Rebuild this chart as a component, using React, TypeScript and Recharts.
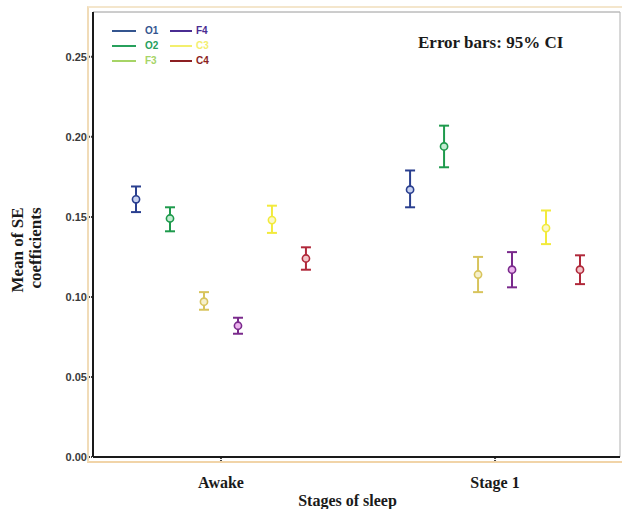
import React from "react";
import {
  ScatterChart,
  Scatter,
  XAxis,
  YAxis,
  ErrorBar,
  ReferenceLine,
} from "recharts";

// stages on the x axis
const stages = ["Awake", "Stage 1"];

// electrodes (series), in legend order
const channels = ["O1", "O2", "F3", "F4", "C3", "C4"];

// mean SE coefficient per channel, one value per stage
const meanO1 = [0.161, 0.167];
const meanO2 = [0.149, 0.194];
const meanF3 = [0.097, 0.114];
const meanF4 = [0.082, 0.117];
const meanC3 = [0.148, 0.143];
const meanC4 = [0.124, 0.117];

// 95% CI lower / upper bounds
const lowO1 = [0.153, 0.156];
const highO1 = [0.169, 0.179];
const lowO2 = [0.141, 0.181];
const highO2 = [0.156, 0.207];
const lowF3 = [0.092, 0.103];
const highF3 = [0.103, 0.125];
const lowF4 = [0.077, 0.106];
const highF4 = [0.087, 0.128];
const lowC3 = [0.14, 0.133];
const highC3 = [0.157, 0.154];
const lowC4 = [0.117, 0.108];
const highC4 = [0.131, 0.126];

const yTicks = [0, 0.05, 0.1, 0.15, 0.2, 0.25];

const means = [meanO1, meanO2, meanF3, meanF4, meanC3, meanC4];
const lows = [lowO1, lowO2, lowF3, lowF4, lowC3, lowC4];
const highs = [highO1, highO2, highF3, highF4, highC3, highC4];

const markColors = ["#2a3f8f", "#1e9a4c", "#d8c45c", "#7a2a8c", "#f2ea3c", "#b0283a"];
const markFills = ["#c8d2f0", "#c4ecd2", "#f6f0cc", "#ecb4ee", "#fbf8c8", "#f2c4c8"];
const legendColors = ["#34558f", "#27a05c", "#a6d466", "#4a2c92", "#f3ef6e", "#8c1f22"];

// dodge width between channels inside a stage group
const DODGE = 0.124;

const buildSeries = (s: number) =>
  stages.map((stage, i) => ({
    stage,
    x: i + 1 + (s - (channels.length - 1) / 2) * DODGE,
    y: means[s][i],
    err: [means[s][i] - lows[s][i], highs[s][i] - means[s][i]],
  }));

const serif = "'Liberation Serif', 'Times New Roman', serif";

const XTick = ({ x, y, payload }: any) => (
  <text
    x={x}
    y={y + 25}
    textAnchor="middle"
    fontFamily={serif}
    fontWeight="bold"
    fontSize={16}
    fill="#1a1a1a"
  >
    {stages[payload.value - 1]}
  </text>
);

const Legend6 = () => (
  <div
    style={{
      position: "absolute",
      left: 112,
      top: 23,
      display: "grid",
      gridTemplateColumns: "58px 50px",
      gridAutoFlow: "column",
      gridTemplateRows: "repeat(3, 15px)",
      fontFamily: "Arial, sans-serif",
      fontWeight: "bold",
      fontSize: 10,
    }}
  >
    {channels.map((c, i) => (
      <div key={c} style={{ display: "flex", alignItems: "center", color: legendColors[i] }}>
        <span
          style={{
            display: "inline-block",
            width: i < 3 ? 24 : 22,
            height: 2,
            background: legendColors[i],
            marginRight: i < 3 ? 9 : 4,
          }}
        />
        {c}
      </div>
    ))}
  </div>
);

export default function App() {
  return (
    <div style={{ position: "relative", width: 622, height: 509, background: "#fff" }}>
      <style>{"body{margin:0}"}</style>
      {/* faint outer frame seen around the axes */}
      <div
        style={{
          position: "absolute",
          left: 87,
          top: 6,
          width: 540,
          height: 453,
          borderLeft: "2px solid #f1dcb8",
          borderTop: "2px solid #f4e6cc",
          borderBottom: "2px solid #f1d4a8",
        }}
      />
      <ScatterChart width={622} height={509} margin={{ top: 12, right: 2, left: 0, bottom: 0 }}>
        <XAxis
          type="number"
          dataKey="x"
          domain={[0.533, 2.456]}
          ticks={[1, 2]}
          allowDataOverflow
          height={52}
          stroke="#1a1a1a"
          strokeWidth={2}
          tickSize={4}
          tickLine={{ stroke: "#444", strokeDasharray: "1 1" }}
          tick={<XTick />}
          label={{
            value: "Stages of sleep",
            position: "insideBottom",
            offset: 3,
            dx: -9,
            style: { fontFamily: serif, fontWeight: "bold", fontSize: 16, fill: "#1a1a1a" },
          }}
        />
        <YAxis
          type="number"
          dataKey="y"
          domain={[0, 0.278]}
          ticks={yTicks}
          allowDataOverflow
          width={93}
          stroke="#1a1a1a"
          strokeWidth={2}
          tickSize={4}
          tickLine={{ stroke: "#444", strokeDasharray: "1 1" }}
          tickFormatter={(v: number) => v.toFixed(2)}
          tick={{ fill: "#3a3a3a", fontSize: 11, fontFamily: "Arial, sans-serif", fontWeight: "bold" }}
          label={{
            content: () => (
              <g fontFamily={serif} fontWeight="bold" fontSize={17} fill="#1a1a1a">
                <text transform="translate(23,250) rotate(-90)" textAnchor="middle">
                  Mean of SE
                </text>
                <text transform="translate(41,248) rotate(-90)" textAnchor="middle">
                  coefficients
                </text>
              </g>
            ),
          }}
        />
        <ReferenceLine y={0.278} stroke="#9a9a9a" strokeWidth={1} />
        <ReferenceLine x={2.456} stroke="#b0b0b0" strokeWidth={1} />
        {channels.map((c, s) => (
          <Scatter
            key={c}
            name={c}
            data={buildSeries(s)}
            isAnimationActive={false}
            shape={(p: any) => (
              <circle
                cx={p.cx}
                cy={p.cy}
                r={3.6}
                fill={markFills[s]}
                stroke={markColors[s]}
                strokeWidth={1.6}
              />
            )}
          >
            <ErrorBar
              dataKey="err"
              direction="y"
              width={5}
              stroke={markColors[s]}
              strokeWidth={2}
              isAnimationActive={false}
            />
          </Scatter>
        ))}
      </ScatterChart>
      <Legend6 />
      <div
        style={{
          position: "absolute",
          left: 418,
          top: 33,
          fontFamily: serif,
          fontWeight: "bold",
          fontSize: 17,
          color: "#1a1a1a",
        }}
      >
        Error bars: 95% CI
      </div>
    </div>
  );
}
